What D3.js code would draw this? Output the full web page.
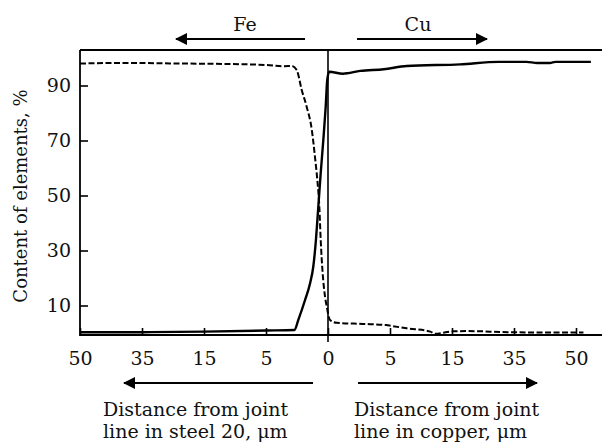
<!DOCTYPE html>
<html>
<head>
<meta charset="utf-8">
<script src="https://cdn.jsdelivr.net/npm/d3@7"></script>
<style>
  html, body { margin: 0; padding: 0; background: #fff; }
  svg { display: block; }
  text { font-family: "DejaVu Serif", "Liberation Serif", serif; fill: #111; }
</style>
</head>
<body>
<div id="chart"></div>
<script>
// tick positions: the axis is spaced evenly by tick, not by distance
const tickValues = [-50, -35, -15, -5, 0, 5, 15, 35, 50];
const tickLabels = ["50", "35", "15", "5", "0", "5", "15", "35", "50"];
const yTicks = [10, 30, 50, 70, 90];

// Cu profile (solid line), distance in µm (negative = steel side)
const cuDist = [-50, -35, -15, -5, -2.7, -2.4, -1.85, -1.45, -1.19, -0.97, -0.78, -0.59, -0.38, -0.19, -0.06,
  0.1, 1.2, 2.6, 4.5, 7.7, 17.6, 30, 38, 40.6, 43.7, 45, 53.6];
const cuContent = [0.3, 0.3, 0.5, 0.9, 1.1, 4.7, 12, 18, 24, 34, 46, 58, 70, 82, 92,
  95, 94.3, 95.3, 95.9, 97.1, 97.7, 98.6, 98.6, 98.2, 98.2, 98.6, 98.6];

// Fe profile (dashed line)
const feDist = [-50, -40, -22.7, -10.8, -4.7, -3.5, -2.93, -2.52, -2.12, -1.72, -1.31, -1.05, -0.86, -0.7, -0.59,
  -0.43, -0.24, -0.1, 0.16, 0.7, 2.8, 4.7, 5.2, 7.7, 11.5, 12.3, 15.2, 20.2, 33, 40.8, 51.8];
const feContent = [98.0, 98.2, 98.0, 97.8, 97.4, 97.0, 97.1, 95.6, 88.4, 82.3, 74, 64, 55.6, 46, 34,
  21.7, 13.2, 9.6, 4.7, 3.7, 3.3, 2.9, 2.6, 1.7, 0.5, -0.3, 0.6, 0.7, 0.3, 0.2, 0.2];

const W = 602, H = 444;
const plotLeft = 80, plotTop = 50, plotBottom = 335, plotRight = 602;

const svg = d3.select('#chart').append('svg')
  .attr('width', W)
  .attr('height', H);

const defs = svg.append('defs');
defs.append('marker')
  .attr('id', 'head')
  .attr('viewBox', '0 0 12 12')
  .attr('refX', 11).attr('refY', 6)
  .attr('markerWidth', 12).attr('markerHeight', 12)
  .attr('markerUnits', 'userSpaceOnUse')
  .attr('orient', 'auto')
  .append('path')
  .attr('d', 'M0,0 L12,6 L0,12 Z')
  .attr('fill', '#000');

// piecewise linear scale, one even step per tick
const step = 62;
const x = d3.scaleLinear()
  .domain(tickValues)
  .range(tickValues.map((d, i) => plotLeft + i * step));

const y = d3.scaleLinear()
  .domain([0, 100])
  .range([333, 58]);

// axes
const xAxis = d3.axisBottom(x)
  .tickValues(tickValues)
  .tickFormat((d, i) => tickLabels[i])
  .tickSize(-7)
  .tickPadding(17);

const gx = svg.append('g')
  .attr('transform', `translate(0,${plotBottom})`)
  .call(xAxis);
gx.select('.domain').remove();
gx.selectAll('line').attr('stroke', '#000').attr('stroke-width', 1.6);
gx.selectAll('text').style('font-size', '19px').style('font-family', '"DejaVu Serif", serif');

const yAxis = d3.axisLeft(y)
  .tickValues(yTicks)
  .tickSize(-8)
  .tickPadding(9);

const gy = svg.append('g')
  .attr('transform', `translate(${plotLeft},0)`)
  .call(yAxis);
gy.select('.domain').remove();
gy.selectAll('line').attr('stroke', '#000').attr('stroke-width', 1.6);
gy.selectAll('text').style('font-size', '19px').style('font-family', '"DejaVu Serif", serif');

// frame: left, top, bottom (open on the right)
const frame = svg.append('g').attr('stroke', '#000').attr('stroke-width', 1.8).attr('fill', 'none');
frame.append('line').attr('x1', plotLeft).attr('x2', plotLeft).attr('y1', plotTop).attr('y2', plotBottom + 1);
frame.append('line').attr('x1', plotLeft).attr('x2', plotRight).attr('y1', plotTop).attr('y2', plotTop);
frame.append('line').attr('x1', plotLeft).attr('x2', plotRight).attr('y1', plotBottom).attr('y2', plotBottom);

// joint line
svg.append('line')
  .attr('x1', x(0)).attr('x2', x(0))
  .attr('y1', plotTop).attr('y2', plotBottom + 7)
  .attr('stroke', '#000').attr('stroke-width', 1.6);

const line = d3.line()
  .x(d => x(d[0]))
  .y(d => y(d[1]))
  .curve(d3.curveMonotoneX);

svg.append('path')
  .datum(d3.zip(feDist, feContent))
  .attr('d', line)
  .attr('fill', 'none')
  .attr('stroke', '#000')
  .attr('stroke-width', 2)
  .attr('stroke-dasharray', '6,2.5');

svg.append('path')
  .datum(d3.zip(cuDist, cuContent))
  .attr('d', line)
  .attr('fill', 'none')
  .attr('stroke', '#000')
  .attr('stroke-width', 2.4)
  .attr('stroke-linejoin', 'round');

// arrows and labels
function arrow(x1, x2, yy) {
  svg.append('line')
    .attr('x1', x1).attr('x2', x2)
    .attr('y1', yy).attr('y2', yy)
    .attr('stroke', '#000').attr('stroke-width', 2)
    .attr('marker-end', 'url(#head)');
}
arrow(305, 176, 39);
arrow(357, 487, 39);
arrow(313, 124, 383);
arrow(358, 537, 383);

svg.append('text').attr('x', 245).attr('y', 31).attr('text-anchor', 'middle')
  .style('font-size', '19px').text('Fe');
svg.append('text').attr('x', 418).attr('y', 31).attr('text-anchor', 'middle')
  .style('font-size', '19px').text('Cu');

const note = (xx, yy, s) => svg.append('text')
  .attr('x', xx).attr('y', yy)
  .style('font-size', '19px').text(s);
note(103, 416, 'Distance from joint');
note(103, 438, 'line in steel 20, μm');
note(354, 416, 'Distance from joint');
note(354, 438, 'line in copper, μm');

svg.append('text')
  .attr('transform', `translate(27,196) rotate(-90)`)
  .attr('text-anchor', 'middle')
  .style('font-size', '18px')
  .text('Content of elements, %');
</script>
</body>
</html>
